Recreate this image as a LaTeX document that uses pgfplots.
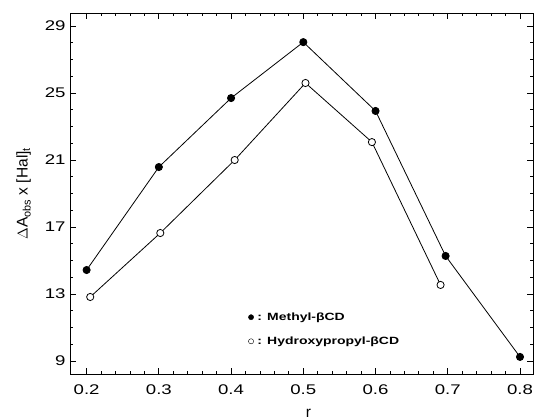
\documentclass[border=0pt]{standalone}
\usepackage{fontspec}
\setmainfont{Liberation Sans}
\newfontfamily\widefont{Liberation Sans}[FakeStretch=1.33]
\usepackage{pgfplots}
\pgfplotsset{compat=1.18}
\usetikzlibrary{calc}
\begin{document}
\begin{tikzpicture}
\begin{axis}[
  name=ax,
  scale only axis,
  width=463bp, height=361bp,
  xmin=0.177, xmax=0.818,
  ymin=8.22, ymax=29.78,
  xtick={0.2,0.3,0.4,0.5,0.6,0.7,0.8},
  xticklabels={0.2,0.3,0.4,0.5,0.6,0.7,0.8},
  ytick={9,13,17,21,25,29},
  minor x tick num=4,
  minor y tick num=3,
  tick align=inside,
  major tick length=6bp,
  minor tick length=3bp,
  axis line style={line width=0.9bp},
  tick style={line width=0.8bp, black},
  /pgf/number format/assume math mode=true,
  ticklabel style={font=\widefont\fontsize{14bp}{16bp}\selectfont},
  xticklabel style={yshift=-7bp},
  yticklabel style={xshift=-1bp},
  xlabel={r},
  ylabel={$\Delta$A\textsubscript{obs} x [Hal]\textsubscript{t}},
  label style={font=\fontsize{15.5bp}{17bp}\selectfont},
  xlabel style={at={(rel axis cs:0.515,0)}, anchor=center, yshift=-39bp},
  ylabel style={at={(rel axis cs:-0.1,0.5)}, anchor=center},
  legend style={draw=none, fill=none, at={(rel axis cs:0.385,0.176)}, anchor=north west,
    font=\widefont\fontsize{10.5bp}{12bp}\selectfont\bfseries, row sep=11bp, inner sep=0pt},
  legend cell align=left,
]
\addplot[black, line width=0.8bp, mark=*, mark size=3.6bp, mark options={fill=black}, forget plot]
coordinates {(0.2,14.43) (0.3,20.58) (0.4,24.70) (0.5,28.04) (0.6,23.93) (0.697,15.27) (0.8,9.24)};
\addplot[black, line width=0.8bp, mark=*, mark size=3.6bp, mark options={fill=white}, forget plot]
coordinates {(0.205,12.82) (0.302,16.64) (0.405,21.0) (0.503,25.6) (0.595,22.07) (0.69,13.54)};
\addlegendimage{only marks, mark=*, mark size=2.6bp, black, mark options={fill=black}}
\addlegendentry{\,: Methyl-βCD}
\addlegendimage{only marks, mark=*, mark size=2.6bp, black, mark options={fill=white}}
\addlegendentry{\,: Hydroxypropyl-βCD}
\end{axis}
\pgfresetboundingbox
\path ($(ax.south west)+(-70bp,-45bp)$) rectangle ($(ax.north east)+(3bp,13bp)$);
\end{tikzpicture}
\end{document}
